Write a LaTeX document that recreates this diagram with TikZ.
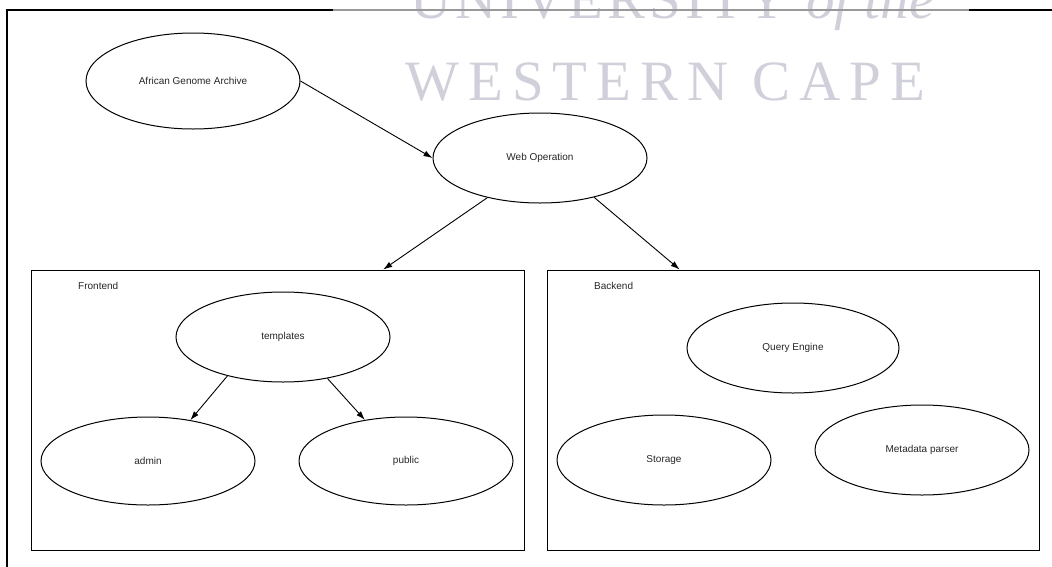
\documentclass[tikz,border=0pt]{standalone}
\usepackage{fontspec}
\setmainfont{Liberation Sans}
\newfontfamily\wmfont[LetterSpace=16]{Liberation Serif}
\newfontfamily\wmfonttop[LetterSpace=7]{Liberation Serif}
\usetikzlibrary{shapes.geometric,arrows.meta,calc}
\definecolor{wm}{HTML}{D0D0DB}
\begin{document}
\begin{tikzpicture}[x=1pt,y=-1pt,font=\fontsize{10}{12}\selectfont,
  oval/.style={ellipse,draw,line width=1pt,minimum width=214pt,minimum height=90pt,inner sep=0pt,text=black!85},
  panel/.style={draw,line width=1pt,rectangle,inner sep=0pt},
  paneltitle/.style={anchor=west,inner sep=0pt,text=black!85},
  arr/.style={-{Latex[length=9pt,width=6pt]},line width=0.9pt},
  wmtext/.style={anchor=base west,inner sep=0pt,text=wm,font=\wmfont\fontsize{57}{60}\selectfont},
  frameline/.style={line width=2.5pt}]
\clip (0,0) rectangle (1052,566);
\useasboundingbox (0,0) rectangle (1052,566);
% watermark
\node[wmtext,font=\wmfonttop\fontsize{57}{60}\selectfont] (wmtop) at (410,18) {UNIVERSITY {\addfontfeature{LetterSpace=0}\itshape of the}};
\node[wmtext] (wmbottom) at (405,100) {WESTERN CAPE};
% frame
\draw[frameline] (7,570) -- (7,10) -- (334,10);
\draw[frameline,black!40] (333,10) -- (970,10);
\draw[frameline] (969,10) -- (1060,10);
% panels
\node[panel,minimum width=493pt,minimum height=280pt] (frontend) at (277.5,410) {};
\node[panel,minimum width=492pt,minimum height=280pt] (backend) at (793,410) {};
\node[paneltitle] (felabel) at (78,286) {Frontend};
\node[paneltitle] (belabel) at (594,286) {Backend};
% ellipses
\node[oval,minimum height=96pt] (aga) at (193,81) {African Genome Archive};
\node[oval] (web) at (540,158) {Web Operation};
\node[oval] (templates) at (283,337) {templates};
\node[oval,minimum height=88pt] (admin) at (148,461) {admin};
\node[oval,minimum height=88pt] (public) at (406,461) {public};
\node[oval,minimum width=212pt] (query) at (793,348) {Query Engine};
\node[oval] (storage) at (664,460) {Storage};
\node[oval] (meta) at (922,450) {Metadata parser};
% connectors
\draw[arr] (aga.east) -- (web.west);
\draw[arr] (web.217) -- ($(frontend.north west)!0.714!(frontend.north east)$);
\draw[arr] (web.324) -- ($(backend.north west)!0.27!(backend.north east)$);
\draw[arr] (templates.215) -- (admin.44);
\draw[arr] (templates.317) -- (public.135);
\end{tikzpicture}
\end{document}
